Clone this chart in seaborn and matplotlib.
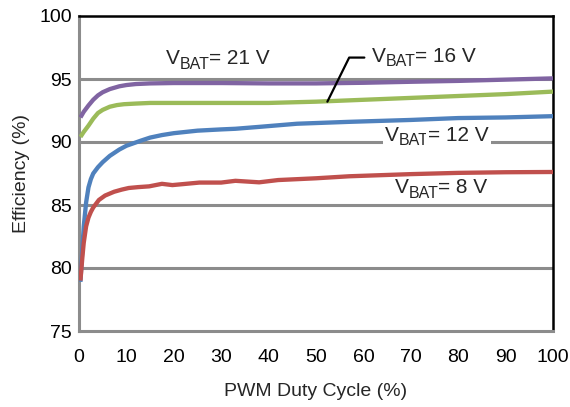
import matplotlib
matplotlib.use("Agg")
import matplotlib.pyplot as plt
import seaborn as sns
import pandas as pd

# Data
duty_21 = [0.3, 1, 2, 3, 4, 5, 6.5, 8.5, 10, 12, 15, 20, 30, 40, 50, 60, 70, 80, 90, 100]
eff_21 = [91.95, 92.4, 92.9, 93.35, 93.7, 93.95, 94.2, 94.42, 94.52, 94.6, 94.65, 94.68, 94.68, 94.65, 94.65, 94.7, 94.78, 94.85, 94.95, 95.05]

duty_16 = [0.3, 1, 2, 3, 4, 5, 6.5, 8, 9.5, 12, 15, 20, 30, 40, 50, 60, 70, 80, 90, 100]
eff_16 = [90.4, 90.8, 91.3, 91.85, 92.3, 92.55, 92.8, 92.93, 93.0, 93.05, 93.1, 93.1, 93.1, 93.1, 93.2, 93.35, 93.5, 93.65, 93.8, 94.0]

duty_12 = [0.3, 0.7, 1, 1.5, 2, 2.5, 3, 4, 5, 6.5, 8.5, 10, 11.5, 13, 15, 17.5, 20, 25, 30, 33, 38, 46, 57, 70, 80, 90, 100]
eff_12 = [78.9, 81.5, 83.3, 85.2, 86.4, 87.05, 87.5, 88.0, 88.4, 88.9, 89.4, 89.7, 89.9, 90.1, 90.35, 90.55, 90.7, 90.9, 91.0, 91.05, 91.2, 91.45, 91.6, 91.75, 91.9, 91.95, 92.05]

duty_8 = [0.3, 0.7, 1, 1.5, 2, 2.5, 3, 4.2, 5.5, 7.4, 9, 10.5, 12.5, 14.8, 17.5, 19.7, 22, 25.4, 30, 33, 38, 42, 50, 57, 70, 80, 90, 100]
eff_8 = [79.0, 80.8, 82.0, 83.3, 84.0, 84.45, 84.8, 85.4, 85.75, 86.05, 86.22, 86.35, 86.42, 86.48, 86.68, 86.58, 86.66, 86.78, 86.78, 86.92, 86.8, 86.98, 87.12, 87.28, 87.45, 87.55, 87.6, 87.62]

series_names = ["21 V", "16 V", "12 V", "8 V"]
colors = ["#8064A2", "#9BBB59", "#4F81BD", "#C0504D"]

x_ticks = [0, 10, 20, 30, 40, 50, 60, 70, 80, 90, 100]
y_ticks = [75, 80, 85, 90, 95, 100]

# label anchors (left edge x, baseline y) in data units
label_x = [18.3, 61.7, 64.5, 66.6]
label_y = [96.17, 96.37, 90.08, 85.93]

frames = []
for name, xs, ys in zip(series_names, [duty_21, duty_16, duty_12, duty_8],
                        [eff_21, eff_16, eff_12, eff_8]):
    frames.append(pd.DataFrame({"duty": xs, "eff": ys, "vbat": name}))
df = pd.concat(frames, ignore_index=True)

sns.set_theme(style="white")
plt.rcParams["font.family"] = ["Liberation Sans", "DejaVu Sans"]

fig = plt.figure(figsize=(5.7, 4.07), dpi=100)
ax = fig.add_axes([79 / 570, 1 - 331 / 407, (553 - 79) / 570, (331 - 16) / 407])

grid_color = "#8C8C8C"
for yv in y_ticks[1:-1]:
    ax.axhline(yv, color=grid_color, lw=2.2, zorder=1)

sns.lineplot(data=df, x="duty", y="eff", hue="vbat", palette=dict(zip(series_names, colors)),
             hue_order=series_names, lw=3.1, ax=ax, legend=False, zorder=3,
             solid_capstyle="butt", solid_joinstyle="round")

ax.set_xlim(0, 100)
ax.set_ylim(75, 100)
ax.set_xticks(x_ticks)
ax.set_yticks(y_ticks)
ax.tick_params(axis="x", length=0, pad=13, labelsize=14, colors="black")
ax.tick_params(axis="y", length=0, pad=5, labelsize=14, colors="black")
ax.set_xlabel("PWM Duty Cycle (%)", fontsize=14, labelpad=12)
ax.set_ylabel("Efficiency (%)", fontsize=14, labelpad=7)

for side in ["left", "bottom"]:
    ax.spines[side].set_color(grid_color)
    ax.spines[side].set_linewidth(2.2)
for side in ["top", "right"]:
    ax.spines[side].set_color("black")
    ax.spines[side].set_linewidth(1.8)


def vbat_label(x, y, value, boxed=False):
    bb = dict(facecolor="white", edgecolor="none", pad=1.5) if boxed else None
    t1 = ax.text(x, y, "V", fontsize=15, ha="left", va="baseline", zorder=2, bbox=bb)
    t2 = ax.annotate("BAT", xy=(1, 0), xycoords=t1, xytext=(0, -2.5),
                     textcoords="offset points", fontsize=11.5, ha="left",
                     va="bottom", zorder=2, bbox=bb)
    ax.annotate("= " + value, xy=(1, 0), xycoords=(t2, t1), xytext=(0, 0),
                textcoords="offset points", fontsize=15, ha="left",
                va="bottom", zorder=2, bbox=bb)


for name, lx, ly in zip(series_names, label_x, label_y):
    vbat_label(lx, ly, name, boxed=(name == "12 V"))

# leader line for 16 V label
ax.plot([52.4, 57.0, 60.2], [93.2, 96.7, 96.7], color="black", lw=1.6, zorder=4)

fig.savefig("out.png", dpi=100)
